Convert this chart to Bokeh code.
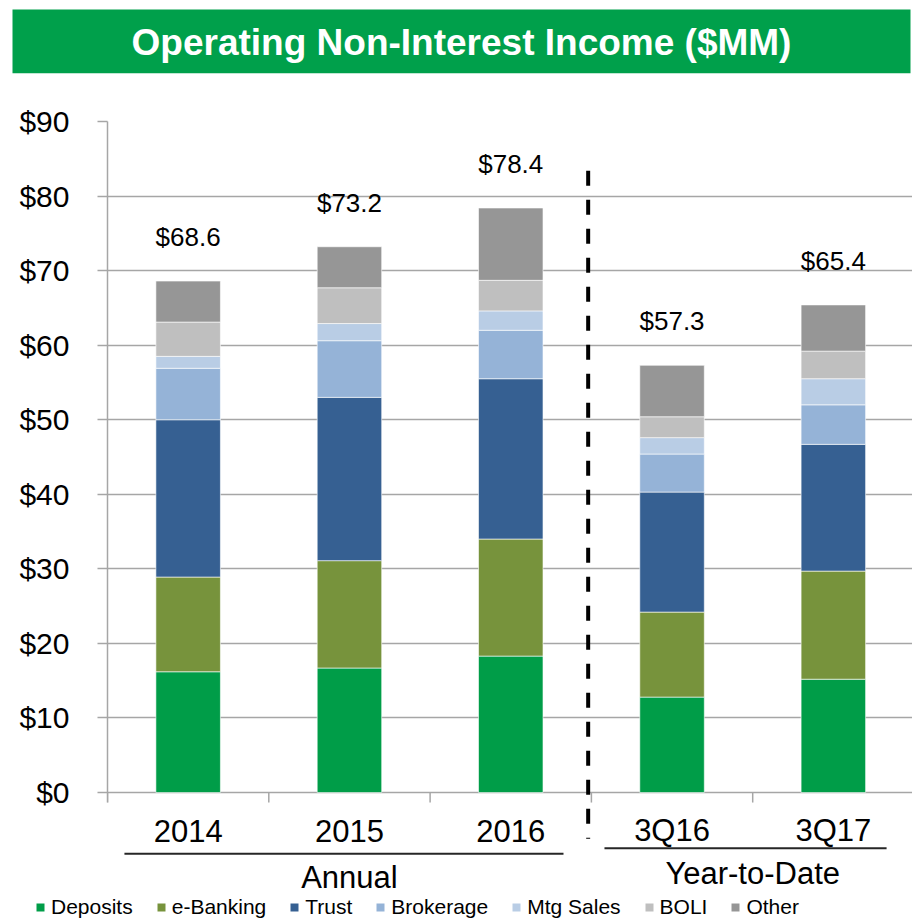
from bokeh.plotting import figure
from bokeh.layouts import column
from bokeh.models import (ColumnDataSource, FixedTicker, PrintfTickFormatter, Legend,
                          LegendItem)
from bokeh.core.properties import value
from bokeh.embed import file_html
from bokeh.resources import INLINE

# ---------------- data ----------------
categories = ["2014", "2015", "2016", "3Q16", "3Q17"]
series = ["Deposits", "e-Banking", "Trust", "Brokerage", "Mtg Sales", "BOLI", "Other"]
deposits = [16.2, 16.7, 18.3, 12.8, 15.2]
ebanking = [12.7, 14.4, 15.7, 11.4, 14.5]
trust = [21.1, 21.9, 21.5, 16.1, 17.0]
brokerage = [6.9, 7.6, 6.5, 5.1, 5.3]
mtg_sales = [1.6, 2.3, 2.6, 2.2, 3.5]
boli = [4.6, 4.8, 4.1, 2.8, 3.7]
other = [5.5, 5.5, 9.7, 6.9, 6.2]
y_ticks = [0, 10, 20, 30, 40, 50, 60, 70, 80, 90]
groups = ["Annual", "Year-to-Date"]
group_members = [[0, 1, 2], [3, 4]]
title_text = "Operating Non-Interest Income ($MM)"

colors = ["#009D48", "#77933C", "#366092", "#95B3D7", "#B9CDE5", "#BFBFBF", "#969696"]
FONT = "Liberation Sans"
GRID = "#A6A6A6"
TITLE_GREEN = "#00A04B"

# ---------------- source ----------------
xs = [i + 0.5 for i in range(len(categories))]
boundaries = list(range(len(categories) + 1))
values = [deposits, ebanking, trust, brokerage, mtg_sales, boli, other]
data = {"x": xs, "cat": categories, "zero": [0] * len(categories)}
for name, vals in zip(series, values):
    data[name] = vals
totals = [round(sum(v[i] for v in values), 1) for i in range(len(categories))]
data["total"] = totals
data["label"] = ["${:.1f}".format(t) for t in totals]
source = ColumnDataSource(data)

# ---------------- geometry ----------------
W = 912
H_TITLE, H_MAIN, H_LEG = 100, 795, 24
ML, MT = 107, 21
px_per_cat = 161.3
px_per_unit = 7.456
frame_h = H_MAIN - MT
x_end = (W - ML) / px_per_cat
y_start = 90 - frame_h / px_per_unit
tick_len = 10 / px_per_unit

def common(p):
    p.outline_line_color = None
    p.background_fill_color = "white"
    p.border_fill_color = "white"
    p.frame_align = False

# ---------------- title figure ----------------
tf = figure(width=W, height=H_TITLE, x_range=(0, W), y_range=(H_TITLE, 0),
            output_backend="svg", toolbar_location=None,
            x_axis_location=None, y_axis_location=None,
            min_border_left=0, min_border_right=0, min_border_top=0, min_border_bottom=0)
common(tf)
tf.grid.grid_line_color = None
tf.quad(left=[12], right=[910], top=[9], bottom=[72.7], fill_color=TITLE_GREEN, line_color=None)
tf.text(x=[461], y=[41.5], text=[title_text], text_font=value(FONT), text_font_size="37px",
        text_font_style="bold", text_color="white", text_align="center", text_baseline="middle")

# ---------------- main figure ----------------
p = figure(width=W, height=H_MAIN, x_range=(0, x_end), y_range=(y_start, 90),
           output_backend="svg", toolbar_location=None, x_axis_location=None,
           min_border_left=ML, min_border_right=0, min_border_top=MT, min_border_bottom=0)
common(p)

p.ygrid.ticker = FixedTicker(ticks=y_ticks)
p.ygrid.grid_line_color = GRID
p.ygrid.grid_line_width = 1.5
p.xgrid.grid_line_color = None

p.yaxis.ticker = FixedTicker(ticks=y_ticks)
p.yaxis.bounds = (-tick_len, 90)
p.yaxis.formatter = PrintfTickFormatter(format="$%d")
p.yaxis.major_label_text_font = FONT
p.yaxis.major_label_text_font_size = "30px"
p.yaxis.major_label_text_color = "black"
p.yaxis.major_label_standoff = 28
p.yaxis.major_tick_out = 10
p.yaxis.major_tick_in = 0
p.yaxis.major_tick_line_color = GRID
p.yaxis.major_tick_line_width = 1.5
p.yaxis.minor_tick_line_color = None
p.yaxis.axis_line_color = GRID
p.yaxis.axis_line_width = 1.5

renderers = p.vbar_stack(series, x="x", width=0.4, color=colors, source=source,
                         line_color="white", line_width=0.6)

# totals above bars
p.text(x="x", y="total", text="label", source=source, text_font=value(FONT),
       text_font_size="26px", text_align="center", text_baseline="middle",
       y_offset=-44, text_color="black")

# category axis: boundary ticks and labels at y = 0
p.segment(x0=boundaries, y0=[0] * len(boundaries), x1=boundaries, y1=[-tick_len] * len(boundaries),
          line_color=GRID, line_width=1.5)
p.text(x="x", y="zero", text="cat", source=source, text_font=value(FONT),
       text_font_size="31px", text_align="center", text_baseline="middle",
       y_offset=38, text_color="black")

# dashed separator between annual and YTD
sep = len(group_members[0]) - 0.02
p.segment(x0=[sep], y0=[83.4], x1=[sep], y1=[-6.2], line_color="black",
          line_width=4, line_dash="15 14")

# group underlines and labels
underline_x = [(0.105, 2.827), (3.081, 4.83)]
underline_y = [-8.22, -7.47]
label_y = [-11.4, -10.8]
gx = [(min(m) + max(m) + 1) / 2 for m in group_members]
p.segment(x0=[u[0] for u in underline_x], y0=underline_y, x1=[u[1] for u in underline_x],
          y1=underline_y, line_color="#262626", line_width=2)
p.text(x=gx, y=label_y, text=groups, text_font=value(FONT), text_font_size="31px",
       text_align="center", text_baseline="middle", text_color="black")

# ---------------- legend figure (legend keys only; its bars have zero height) ----------------
lf = figure(width=W, height=H_LEG, x_range=(0, W), y_range=(0, H_LEG),
            output_backend="svg", toolbar_location=None,
            x_axis_location=None, y_axis_location=None,
            min_border_left=0, min_border_right=0, min_border_top=0, min_border_bottom=0)
common(lf)
lf.grid.grid_line_color = None
legend_source = ColumnDataSource({"x": [-1000], **{s: [0] for s in series}})
leg_r = lf.vbar_stack(series, x="x", width=0.4, color=colors, source=legend_source,
                      line_color=None)
legend = Legend(items=[LegendItem(label=n, renderers=[r]) for n, r in zip(series, leg_r)],
                location=(35, 0), orientation="horizontal",
                label_text_font=FONT, label_text_font_size="21px", label_text_color="black",
                glyph_width=10, glyph_height=10, label_standoff=6, spacing=23,
                padding=0, margin=0, border_line_alpha=0, background_fill_alpha=0)
lf.add_layout(legend)

layout = column(tf, p, lf, spacing=0)
open("out.html", "w").write(file_html(layout, INLINE))
